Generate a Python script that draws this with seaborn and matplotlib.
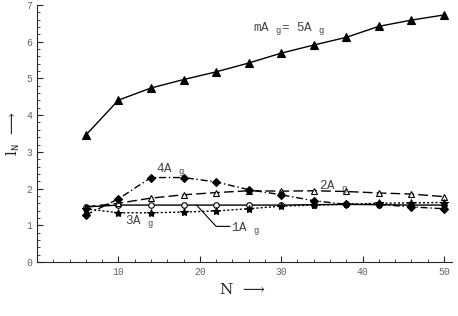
import pandas as pd
import matplotlib.pyplot as plt
import seaborn as sns
from matplotlib.ticker import MultipleLocator

n_values = [6, 10, 14, 18, 22, 26, 30, 34, 38, 42, 46, 50]
a5 = [3.46, 4.41, 4.74, 4.97, 5.18, 5.42, 5.69, 5.91, 6.12, 6.42, 6.59, 6.73]
a1 = [1.50, 1.55, 1.55, 1.55, 1.55, 1.55, 1.55, 1.56, 1.57, 1.56, 1.55, 1.55]
a2 = [1.50, 1.60, 1.74, 1.83, 1.89, 1.94, 1.93, 1.94, 1.92, 1.88, 1.85, 1.78]
a3 = [1.45, 1.34, 1.34, 1.36, 1.39, 1.45, 1.52, 1.55, 1.57, 1.60, 1.61, 1.62]
a4 = [1.28, 1.72, 2.30, 2.30, 2.18, 1.97, 1.83, 1.67, 1.57, 1.57, 1.50, 1.45]

sns.set_style("ticks")
plt.rcParams["font.family"] = ["Liberation Mono", "DejaVu Sans"]
plt.rcParams["mathtext.fontset"] = "custom"
plt.rcParams["mathtext.rm"] = "Liberation Mono"
plt.rcParams["mathtext.it"] = "Liberation Mono"

fig = plt.figure(figsize=(4.58, 3.16), dpi=100)
ax = fig.add_axes([0.081, 0.171, 0.906, 0.813])

styles = [
    (a5, "-", "^", "black", 5.5),
    (a1, "-", "o", "white", 4),
    (a2, (0, (7, 3)), "^", "white", 4.5),
    (a3, (0, (1.5, 1.5)), "*", "black", 6),
    (a4, (0, (5, 2, 1, 2)), "D", "black", 4),
]
for vals, ls, mk, fc, ms in styles:
    df = pd.DataFrame({"N": n_values, "v": vals})
    sns.lineplot(data=df, x="N", y="v", ax=ax, color="black", lw=1.0,
                 linestyle=ls, marker=mk, markerfacecolor=fc,
                 markeredgecolor="black", markersize=ms, markeredgewidth=0.8)

ax.set_xlim(0, 51)
ax.set_ylim(0, 7)
ax.xaxis.set_major_locator(MultipleLocator(10))
ax.xaxis.set_minor_locator(MultipleLocator(2))
ax.yaxis.set_major_locator(MultipleLocator(1))
ax.yaxis.set_minor_locator(MultipleLocator(0.2))
ax.set_xticks([10, 20, 30, 40, 50])
ax.tick_params(direction="in", labelsize=7, labelcolor="#666666", length=4, width=0.8)
ax.tick_params(which="minor", direction="in", length=2, width=0.6)
sns.despine(ax=ax)
ax.set_xlabel("")
ax.set_ylabel("")

txt = dict(color="#444444", fontsize=9, family=["Liberation Mono"])
ax.text(26.5, 6.3, r"mA $_{\rm g}$= 5A $_{\rm g}$", **txt)
ax.text(14.6, 2.45, r"4A $_{\rm g}$", **txt)
ax.text(34.6, 2.0, r"2A $_{\rm g}$", **txt)
ax.text(10.8, 1.03, r"3A $_{\rm g}$", **txt)
ax.text(23.8, 0.85, r"1A $_{\rm g}$", **txt)
ax.plot([19.6, 22, 23.7], [1.55, 0.97, 0.97], color="black", lw=0.8)

fig.text(0.48, 0.07, "N  ⟶", fontsize=11, family=["DejaVu Serif"])
fig.text(0.01, 0.52, r"l$_{\rm N}$  ⟶", fontsize=11, rotation=90, family=["DejaVu Serif"])

fig.savefig("out.png", dpi=100)
